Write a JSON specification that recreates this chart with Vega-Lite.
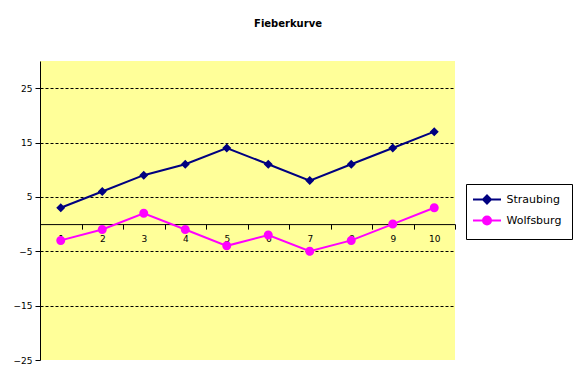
{
  "$schema": "https://vega.github.io/schema/vega-lite/v6.json",
  "width": 415,
  "height": 299,
  "autosize": {"type": "none"},
  "padding": {"left": 40, "top": 61, "right": 122, "bottom": 25},
  "background": "white",
  "title": {"text": "Fieberkurve", "anchor": "middle", "frame": "group", "dx": 40.5, "offset": 32, "font": "DejaVu Sans", "fontSize": 10, "fontWeight": "bold", "color": "black"},
  "config": {
    "view": {"fill": "#FFFF99", "stroke": null},
    "legend": {
      "title": null, "orient": "none", "legendX": 426, "legendY": 123,
      "strokeColor": "black", "fillColor": "white", "padding": 10,
      "labelFont": "DejaVu Sans", "labelFontSize": 11, "labelColor": "black",
      "symbolSize": 64, "symbolStrokeWidth": 2, "rowPadding": 4,
      "symbolOffset": 5.5, "labelOffset": 14
    }
  },
  "data": {"values": [
    {"x": 1, "city": "Straubing", "value": 3},
    {"x": 2, "city": "Straubing", "value": 6},
    {"x": 3, "city": "Straubing", "value": 9},
    {"x": 4, "city": "Straubing", "value": 11},
    {"x": 5, "city": "Straubing", "value": 14},
    {"x": 6, "city": "Straubing", "value": 11},
    {"x": 7, "city": "Straubing", "value": 8},
    {"x": 8, "city": "Straubing", "value": 11},
    {"x": 9, "city": "Straubing", "value": 14},
    {"x": 10, "city": "Straubing", "value": 17},
    {"x": 1, "city": "Wolfsburg", "value": -3},
    {"x": 2, "city": "Wolfsburg", "value": -1},
    {"x": 3, "city": "Wolfsburg", "value": 2},
    {"x": 4, "city": "Wolfsburg", "value": -1},
    {"x": 5, "city": "Wolfsburg", "value": -4},
    {"x": 6, "city": "Wolfsburg", "value": -2},
    {"x": 7, "city": "Wolfsburg", "value": -5},
    {"x": 8, "city": "Wolfsburg", "value": -3},
    {"x": 9, "city": "Wolfsburg", "value": 0},
    {"x": 10, "city": "Wolfsburg", "value": 3}
  ]},
  "encoding": {
    "x": {
      "field": "x", "type": "ordinal",
      "scale": {"paddingInner": 0, "paddingOuter": 0},
      "axis": {
        "title": null, "orient": "bottom", "offset": -135.9,
        "domainColor": "black", "domainWidth": 1, "tickColor": "black", "tickSize": 5,
        "tickBand": "extent", "labelAngle": 0, "labelFont": "DejaVu Sans", "labelFontSize": 9,
        "labelColor": "black", "labelPadding": 5, "grid": false, "zindex": 0
      }
    },
    "y": {
      "field": "value", "type": "quantitative",
      "scale": {"domain": [-25, 30], "nice": false, "zero": false},
      "axis": {
        "title": null, "values": [-25, -15, -5, 5, 15, 25],
        "grid": true, "gridColor": "black", "gridDash": [3, 2], "gridWidth": 1,
        "gridOpacity": {"condition": {"test": "datum.value === -25", "value": 0}, "value": 1},
        "domainColor": "black", "domainWidth": 1, "tickColor": "black", "tickSize": 5,
        "labelFont": "DejaVu Sans", "labelFontSize": 9, "labelColor": "black", "labelPadding": 3,
        "zindex": 0
      }
    }
  },
  "layer": [
    {
      "mark": {"type": "line", "strokeWidth": 2},
      "encoding": {
        "stroke": {"field": "city", "type": "nominal",
          "scale": {"domain": ["Straubing", "Wolfsburg"], "range": ["#000080", "#FF00FF"]}}
      }
    },
    {
      "mark": {"type": "point", "filled": true, "opacity": 1, "size": 81},
      "encoding": {
        "fill": {"field": "city", "type": "nominal",
          "scale": {"domain": ["Straubing", "Wolfsburg"], "range": ["#000080", "#FF00FF"]}},
        "shape": {"field": "city", "type": "nominal",
          "scale": {"domain": ["Straubing", "Wolfsburg"], "range": [
            "M-3.5,0L3.5,0M0,-1L1,0L0,1L-1,0Z",
            "M-3.5,0L3.5,0M1,0A1,1,0,1,1,-1,0A1,1,0,1,1,1,0Z"
          ]}}
      }
    }
  ]
}
